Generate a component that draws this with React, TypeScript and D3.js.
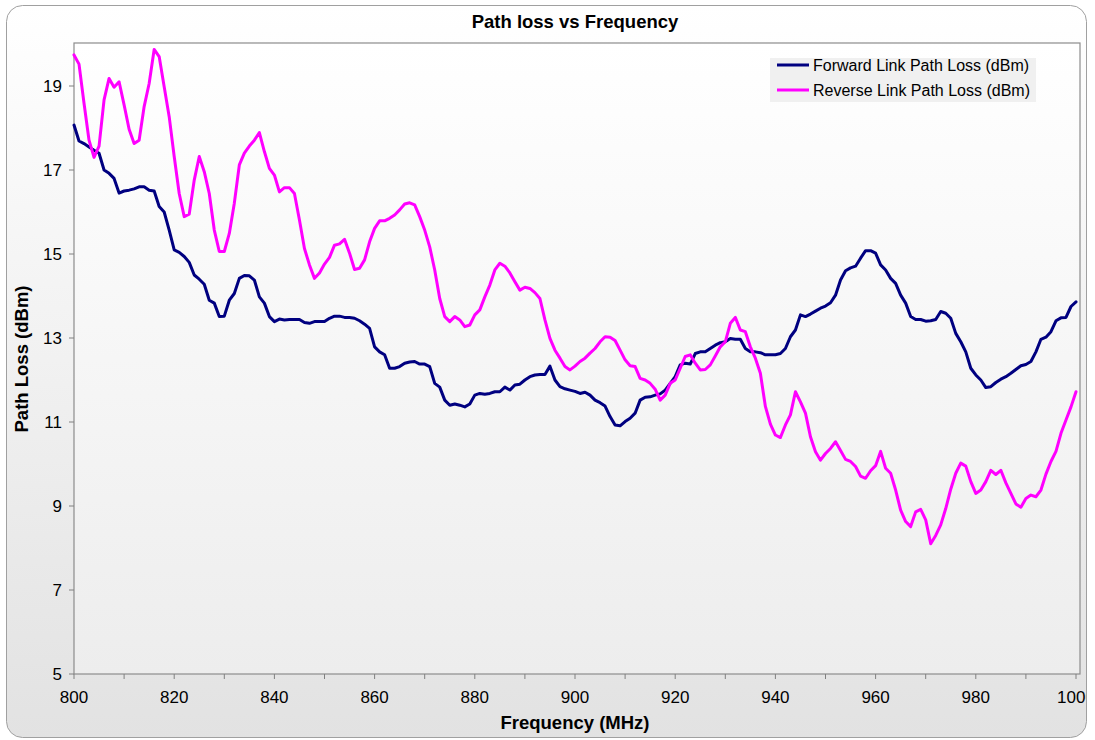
import React from 'react';
import * as d3 from 'd3';

// Frequency axis (MHz), one sample per MHz
const frequencies: number[] = d3.range(800, 1001, 1);

// Forward link path loss (dBm), 800..1000 MHz
const forwardLoss: number[] = [
  18.07, 17.69, 17.63, 17.55, 17.47, 17.40, 17.00, 16.92, 16.80, 16.45,
  16.50, 16.52, 16.55, 16.60, 16.60, 16.52, 16.50, 16.13, 16.00, 15.57,
  15.10, 15.04, 14.94, 14.80, 14.50, 14.40, 14.28, 13.90, 13.83, 13.51,
  13.52, 13.90, 14.06, 14.42, 14.49, 14.48, 14.38, 13.98, 13.83, 13.51,
  13.39, 13.45, 13.43, 13.44, 13.44, 13.44, 13.37, 13.35, 13.39, 13.39,
  13.39, 13.47, 13.52, 13.52, 13.49, 13.49, 13.47, 13.41, 13.33, 13.23,
  12.79, 12.67, 12.60, 12.28, 12.28, 12.32, 12.40, 12.43, 12.44, 12.38,
  12.38, 12.32, 11.92, 11.83, 11.52, 11.40, 11.43, 11.40, 11.36, 11.43,
  11.64, 11.68, 11.66, 11.68, 11.72, 11.72, 11.83, 11.76, 11.88, 11.90,
  12.00, 12.08, 12.12, 12.13, 12.13, 12.33, 12.00, 11.84, 11.79, 11.76,
  11.73, 11.68, 11.71, 11.64, 11.52, 11.46, 11.38, 11.13, 10.93, 10.91,
  11.01, 11.09, 11.21, 11.52, 11.59, 11.60, 11.64, 11.67, 11.76, 11.92,
  12.08, 12.36, 12.40, 12.38, 12.63, 12.67, 12.67, 12.75, 12.83, 12.89,
  12.91, 12.99, 12.97, 12.97, 12.75, 12.67, 12.67, 12.65, 12.60, 12.60,
  12.60, 12.63, 12.75, 13.03, 13.19, 13.55, 13.51, 13.57, 13.64, 13.71,
  13.76, 13.84, 14.02, 14.38, 14.60, 14.67, 14.71, 14.90, 15.08, 15.08,
  15.02, 14.74, 14.62, 14.42, 14.30, 14.02, 13.83, 13.51, 13.44, 13.44,
  13.40, 13.41, 13.44, 13.63, 13.59, 13.47, 13.11, 12.91, 12.67, 12.28,
  12.12, 12.00, 11.82, 11.84, 11.94, 12.02, 12.08, 12.16, 12.25, 12.34,
  12.37, 12.44, 12.67, 12.97, 13.02, 13.15, 13.41, 13.48, 13.49, 13.75,
  13.86,
];

// Reverse link path loss (dBm), 800..1000 MHz
const reverseLoss: number[] = [
  19.74, 19.52, 18.59, 17.71, 17.30, 17.57, 18.67, 19.18, 18.97, 19.10,
  18.55, 17.97, 17.63, 17.71, 18.51, 19.06, 19.87, 19.70, 18.98, 18.27,
  17.32, 16.44, 15.89, 15.95, 16.76, 17.32, 16.96, 16.44, 15.57, 15.06,
  15.06, 15.49, 16.21, 17.12, 17.40, 17.57, 17.71, 17.89, 17.44, 17.04,
  16.88, 16.48, 16.58, 16.58, 16.44, 15.81, 15.13, 14.74, 14.42, 14.55,
  14.76, 14.92, 15.21, 15.24, 15.35, 15.02, 14.63, 14.66, 14.86, 15.29,
  15.61, 15.79, 15.79, 15.85, 15.93, 16.05, 16.19, 16.22, 16.17, 15.89,
  15.57, 15.17, 14.62, 13.94, 13.51, 13.39, 13.51, 13.43, 13.27, 13.31,
  13.55, 13.67, 13.98, 14.26, 14.62, 14.78, 14.71, 14.55, 14.34, 14.14,
  14.21, 14.18, 14.08, 13.94, 13.43, 12.99, 12.71, 12.52, 12.32, 12.24,
  12.33, 12.44, 12.52, 12.64, 12.75, 12.91, 13.03, 13.02, 12.94, 12.71,
  12.48, 12.34, 12.32, 12.04, 12.00, 11.92, 11.78, 11.52, 11.64, 11.92,
  12.00, 12.28, 12.56, 12.60, 12.40, 12.24, 12.25, 12.36, 12.57, 12.79,
  12.91, 13.35, 13.49, 13.19, 13.15, 12.79, 12.52, 12.16, 11.37, 10.95,
  10.69, 10.63, 10.93, 11.17, 11.72, 11.48, 11.21, 10.65, 10.29, 10.09,
  10.25, 10.37, 10.53, 10.32, 10.11, 10.06, 9.94, 9.71, 9.66, 9.84,
  9.96, 10.30, 9.90, 9.78, 9.38, 8.90, 8.63, 8.51, 8.86, 8.92,
  8.67, 8.10, 8.30, 8.55, 8.94, 9.40, 9.78, 10.02, 9.95, 9.58,
  9.30, 9.38, 9.58, 9.85, 9.75, 9.85, 9.55, 9.30, 9.05, 8.97,
  9.18, 9.26, 9.22, 9.38, 9.76, 10.06, 10.30, 10.73, 11.05, 11.36,
  11.72,
];

const xTickLabels: number[] = [800, 820, 840, 860, 880, 900, 920, 940, 960, 980, 1000];
const xMinorTicks: number[] = d3.range(800, 1001, 10);
const yTickLabels: number[] = [5, 7, 9, 11, 13, 15, 17, 19];

const seriesNames: string[] = ['Forward Link Path Loss (dBm)', 'Reverse Link Path Loss (dBm)'];
const seriesColors: string[] = ['#000080', '#ff00ff'];

const font = '"Liberation Sans", Arial, sans-serif';

const App: React.FC = () => {
  const width = 1095;
  const height = 740;
  const plot = { left: 74, right: 1080, top: 44, bottom: 674 };

  const x = d3.scaleLinear().domain([800, 1000]).range([plot.left, 1076]);
  const y = d3.scaleLinear().domain([5, 20]).range([plot.bottom, plot.top]);

  const line = d3
    .line<number>()
    .x((_, i) => x(frequencies[i]))
    .y((d) => y(d));

  const series = [forwardLoss, reverseLoss];

  return (
    <svg
      width={width}
      height={height}
      style={{ position: 'absolute', left: 0, top: 0 }}
      fontFamily={font}
    >
      <defs>
        <linearGradient id="outerBg" x1="0" y1="0" x2="0" y2="1">
          <stop offset="0%" stopColor="#ffffff" />
          <stop offset="100%" stopColor="#e2e2e2" />
        </linearGradient>
        <linearGradient id="plotBg" x1="0" y1="0" x2="0" y2="1">
          <stop offset="0%" stopColor="#ffffff" />
          <stop offset="100%" stopColor="#ededed" />
        </linearGradient>
        <clipPath id="chartClip">
          <rect x={6.5} y={5.5} width={1080} height={732} rx={16} ry={16} />
        </clipPath>
      </defs>

      {/* chart area */}
      <rect x={6.5} y={5.5} width={1080} height={732} rx={16} ry={16} fill="url(#outerBg)" />

      <g clipPath="url(#chartClip)">
        {/* plot area */}
        <rect
          x={plot.left}
          y={plot.top - 1}
          width={plot.right - plot.left}
          height={plot.bottom - plot.top + 1}
          fill="url(#plotBg)"
          stroke="#8c8c8c"
          strokeWidth={1.2}
        />

        {/* title */}
        <text x={575} y={28} textAnchor="middle" fontSize={18.5} fontWeight="bold" fill="#000">
          Path loss vs Frequency
        </text>

        {/* y axis ticks */}
        {yTickLabels.map((t) => (
          <g key={`y${t}`}>
            <line x1={plot.left - 5} x2={plot.left} y1={y(t)} y2={y(t)} stroke="#808080" />
            <text x={plot.left - 12} y={y(t)} dy="0.36em" textAnchor="end" fontSize={17} fill="#000">
              {t}
            </text>
          </g>
        ))}

        {/* x axis ticks */}
        {xMinorTicks.map((t) => (
          <line key={`xt${t}`} x1={x(t)} x2={x(t)} y1={plot.bottom} y2={plot.bottom + 5} stroke="#808080" />
        ))}
        {xTickLabels.map((t) => (
          <text key={`xl${t}`} x={x(t)} y={703} textAnchor="middle" fontSize={17} fill="#000">
            {t}
          </text>
        ))}

        {/* axis titles */}
        <text x={575} y={729} textAnchor="middle" fontSize={18.5} fontWeight="bold" fill="#000">
          Frequency (MHz)
        </text>
        <text
          transform={`translate(28, ${(plot.top + plot.bottom) / 2}) rotate(-90)`}
          textAnchor="middle"
          fontSize={18.5}
          fontWeight="bold"
          fill="#000"
        >
          Path Loss (dBm)
        </text>

        {/* series */}
        {series.map((s, i) => (
          <path
            key={seriesNames[i]}
            d={line(s) || ''}
            fill="none"
            stroke={seriesColors[i]}
            strokeWidth={3}
            strokeLinejoin="round"
            strokeLinecap="round"
          />
        ))}

        {/* legend */}
        <rect x={770} y={58} width={266} height={44} fill="#f0f0f0" />
        {seriesNames.map((name, i) => (
          <g key={`lg${i}`}>
            <line x1={777} x2={809} y1={65 + i * 25} y2={65 + i * 25} stroke={seriesColors[i]} strokeWidth={3} />
            <text x={813} y={65 + i * 25} dy="0.36em" fontSize={16} fill="#000">
              {name}
            </text>
          </g>
        ))}
      </g>

      {/* chart border */}
      <rect x={6.5} y={5.5} width={1080} height={732} rx={16} ry={16} fill="none" stroke="#a0a0a0" strokeWidth={1} />
    </svg>
  );
};

export default App;
